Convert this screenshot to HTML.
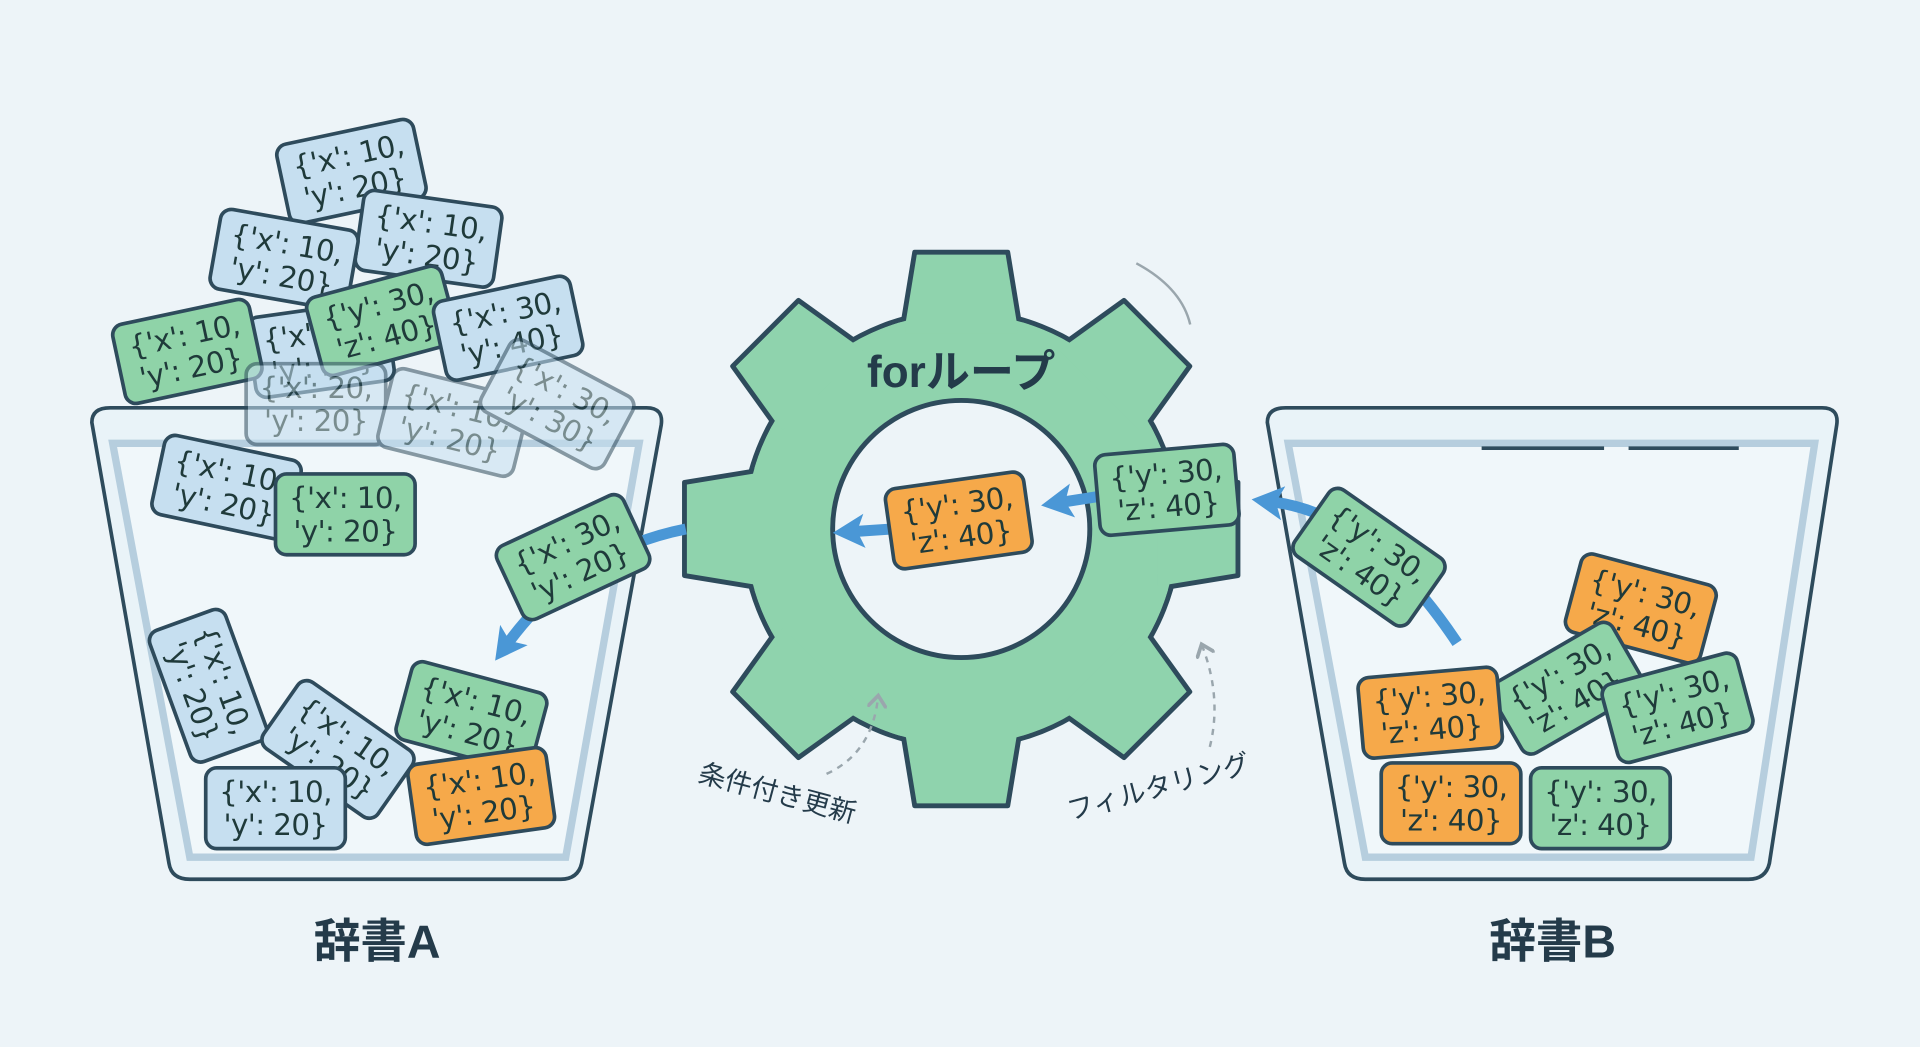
<!DOCTYPE html>
<html><head><meta charset="utf-8"><style>
html,body{margin:0;padding:0;background:#edf4f8;}
svg{display:block}
.c text{font-family:"DejaVu Sans","Liberation Sans",sans-serif;font-size:24px;fill:#1f3a3a;text-anchor:middle;letter-spacing:-0.5px}
.lbl{font-family:"Liberation Sans","Noto Sans CJK JP",sans-serif;fill:#243b4a}
</style></head><body>
<svg width="1920" height="1047" viewBox="0 0 1568 855" preserveAspectRatio="none" xmlns="http://www.w3.org/2000/svg">
<defs>
<g id="cb"><rect x="-57" y="-33" width="114" height="66" rx="9" fill="#c6dff0" stroke="#2e4b5c" stroke-width="3"/></g>
<g id="cg"><rect x="-57" y="-33" width="114" height="66" rx="9" fill="#8fd3a8" stroke="#2e4b5c" stroke-width="3"/></g>
<g id="co"><rect x="-57" y="-33" width="114" height="66" rx="9" fill="#f6a94a" stroke="#2e4b5c" stroke-width="3"/></g>
<marker id="ah" markerUnits="userSpaceOnUse" markerWidth="26" markerHeight="28" refX="8" refY="14" orient="auto"><path d="M0,0 L26,14 L0,28 L6,14 z" fill="#4a97d6"/></marker>
<marker id="dh" markerWidth="8" markerHeight="8" refX="4" refY="4" orient="auto"><path d="M0,0 L5,4 L0,8" fill="none" stroke="#9aa6ad" stroke-width="1.5"/></marker>
</defs>
<rect width="1568" height="855" fill="#edf4f8"/>

<!-- left bucket -->
<path d="M75,345 Q75,333 90,333 L528,333 Q542,333 540,347 L475,705 Q472,718 458,718 L155,718 Q140,718 138,705 Z" fill="#e6f1f8" fill-opacity="0.6" stroke="#2e4b5c" stroke-width="3"/>
<path d="M92,362 L522,362 L462,700 L155,700 Z" fill="#f2f8fb" stroke="#aac6d8" stroke-width="6" opacity="0.8"/>
<!-- right bucket -->
<path d="M1035,345 Q1035,333 1050,333 L1488,333 Q1502,333 1500,347 L1445,705 Q1442,718 1428,718 L1115,718 Q1100,718 1098,705 Z" fill="#e6f1f8" fill-opacity="0.6" stroke="#2e4b5c" stroke-width="3"/>
<path d="M1052,362 L1482,362 L1430,700 L1115,700 Z" fill="#f2f8fb" stroke="#aac6d8" stroke-width="6" opacity="0.8"/>
<line x1="1210" y1="366" x2="1310" y2="366" stroke="#2e4b5c" stroke-width="3"/>
<line x1="1330" y1="366" x2="1420" y2="366" stroke="#2e4b5c" stroke-width="3"/>

<!-- gear -->
<g transform="translate(785,432)">
 <g stroke="#2e4b5c" stroke-width="4" fill="#8fd3ad" stroke-linejoin="round">
  <circle r="178"/>
  <polygon points="-48,-165 48,-165 38,-226 -38,-226" transform="rotate(0)"/>
  <polygon points="-48,-165 48,-165 38,-226 -38,-226" transform="rotate(45)"/>
  <polygon points="-48,-165 48,-165 38,-226 -38,-226" transform="rotate(90)"/>
  <polygon points="-48,-165 48,-165 38,-226 -38,-226" transform="rotate(135)"/>
  <polygon points="-48,-165 48,-165 38,-226 -38,-226" transform="rotate(180)"/>
  <polygon points="-48,-165 48,-165 38,-226 -38,-226" transform="rotate(225)"/>
  <polygon points="-48,-165 48,-165 38,-226 -38,-226" transform="rotate(270)"/>
  <polygon points="-48,-165 48,-165 38,-226 -38,-226" transform="rotate(315)"/>
 </g>
 <g fill="#8fd3ad" stroke="none">
  <circle r="176"/>
  <polygon points="-46,-160 46,-160 36,-224 -36,-224" transform="rotate(0)"/>
  <polygon points="-46,-160 46,-160 36,-224 -36,-224" transform="rotate(45)"/>
  <polygon points="-46,-160 46,-160 36,-224 -36,-224" transform="rotate(90)"/>
  <polygon points="-46,-160 46,-160 36,-224 -36,-224" transform="rotate(135)"/>
  <polygon points="-46,-160 46,-160 36,-224 -36,-224" transform="rotate(180)"/>
  <polygon points="-46,-160 46,-160 36,-224 -36,-224" transform="rotate(225)"/>
  <polygon points="-46,-160 46,-160 36,-224 -36,-224" transform="rotate(270)"/>
  <polygon points="-46,-160 46,-160 36,-224 -36,-224" transform="rotate(315)"/>
 </g>
 <circle r="105" fill="#edf4f8" stroke="#2e4b5c" stroke-width="4"/>
</g>
<text x="785" y="316" class="lbl" font-size="36" font-weight="bold" text-anchor="middle">forループ</text>
<path d="M928,215 Q965,235 972,265" fill="none" stroke="#9aa6ad" stroke-width="2"/>

<!-- arrows -->
<path d="M560,432 Q470,450 415,525" fill="none" stroke="#4a97d6" stroke-width="9" marker-end="url(#ah)"/>
<path d="M900,405 L868,410" stroke="#4a97d6" stroke-width="9" marker-end="url(#ah)"/>
<path d="M728,432 L698,434" stroke="#4a97d6" stroke-width="9" marker-end="url(#ah)"/>
<path d="M1190,525 Q1120,420 1040,410" fill="none" stroke="#4a97d6" stroke-width="9" marker-end="url(#ah)"/>
<path d="M675,632 Q712,615 717,570" fill="none" stroke="#9aa6ad" stroke-width="2" stroke-dasharray="5,5" marker-end="url(#dh)"/>
<path d="M988,610 Q998,570 982,528" fill="none" stroke="#9aa6ad" stroke-width="2" stroke-dasharray="5,5" marker-end="url(#dh)"/>

<!-- cards -->
<g class="c">
<g transform="translate(287,140) rotate(-12)"><use href="#cb"/><text y="-5">{'x': 10,</text><text y="22">'y': 20}</text></g>
<g transform="translate(350,195) rotate(8)"><use href="#cb"/><text y="-5">{'x': 10,</text><text y="22">'y': 20}</text></g>
<g transform="translate(232,212) rotate(10)"><use href="#cb"/><text y="-5">{'x': 10,</text><text y="22">'y': 20}</text></g>
<g transform="translate(262,285) rotate(-8)"><use href="#cb"/><text y="-5">{'x': 10,</text><text y="22">'y': 20}</text></g>
<g transform="translate(312,262) rotate(-15)"><use href="#cg"/><text y="-5">{'y': 30,</text><text y="22">'z': 40}</text></g>
<g transform="translate(415,268) rotate(-12)"><use href="#cb"/><text y="-5">{'x': 30,</text><text y="22">'y': 40}</text></g>
<g transform="translate(153,287) rotate(-12)"><use href="#cg"/><text y="-5">{'x': 10,</text><text y="22">'y': 20}</text></g>
<g opacity="0.55"><g transform="translate(258,330)"><use href="#cb"/><text y="-5">{'x': 20,</text><text y="22">'y': 20}</text></g>
<g transform="translate(370,345) rotate(14)"><use href="#cb"/><text y="-5">{'x': 10,</text><text y="22">'y': 20}</text></g>
<g transform="translate(455,330) rotate(28)"><use href="#cb"/><text y="-5">{'x': 30,</text><text y="22">'y': 30}</text></g></g>
<g transform="translate(185,398) rotate(12)"><use href="#cb"/><text y="-5">{'x': 10,</text><text y="22">'y': 20}</text></g>
<g transform="translate(282,420)"><use href="#cg"/><text y="-5">{'x': 10,</text><text y="22">'y': 20}</text></g>
<g transform="translate(468,455) rotate(-25)"><use href="#cg"/><text y="-5">{'x': 30,</text><text y="22">'y': 20}</text></g>
<g transform="translate(170,560) rotate(70)"><use href="#cb"/><text y="-5">{'x': 10,</text><text y="22">'y': 20}</text></g>
<g transform="translate(276,612) rotate(35)"><use href="#cb"/><text y="-5">{'x': 10,</text><text y="22">'y': 20}</text></g>
<g transform="translate(385,585) rotate(15)"><use href="#cg"/><text y="-5">{'x': 10,</text><text y="22">'y': 20}</text></g>
<g transform="translate(225,660)"><use href="#cb"/><text y="-5">{'x': 10,</text><text y="22">'y': 20}</text></g>
<g transform="translate(393,650) rotate(-8)"><use href="#co"/><text y="-5">{'x': 10,</text><text y="22">'y': 20}</text></g>

<g transform="translate(953,400) rotate(-5)"><use href="#cg"/><text y="-5">{'y': 30,</text><text y="22">'z': 40}</text></g>
<g transform="translate(783,425) rotate(-8)"><use href="#co"/><text y="-5">{'y': 30,</text><text y="22">'z': 40}</text></g>

<g transform="translate(1118,455) rotate(35)"><use href="#cg"/><text y="-5">{'y': 30,</text><text y="22">'z': 40}</text></g>
<g transform="translate(1340,497) rotate(15)"><use href="#co"/><text y="-5">{'y': 30,</text><text y="22">'z': 40}</text></g>
<g transform="translate(1280,562) rotate(-30)"><use href="#cg"/><text y="-5">{'y': 30,</text><text y="22">'z': 40}</text></g>
<g transform="translate(1370,578) rotate(-15)"><use href="#cg"/><text y="-5">{'y': 30,</text><text y="22">'z': 40}</text></g>
<g transform="translate(1168,582) rotate(-5)"><use href="#co"/><text y="-5">{'y': 30,</text><text y="22">'z': 40}</text></g>
<g transform="translate(1185,656)"><use href="#co"/><text y="-5">{'y': 30,</text><text y="22">'z': 40}</text></g>
<g transform="translate(1307,660)"><use href="#cg"/><text y="-5">{'y': 30,</text><text y="22">'z': 40}</text></g>
</g>

<text x="308" y="782" class="lbl" font-size="38" font-weight="bold" text-anchor="middle">辞書A</text>
<text x="1268" y="782" class="lbl" font-size="38" font-weight="bold" text-anchor="middle">辞書B</text>
<text transform="translate(633,655) rotate(15)" class="lbl" font-size="22" text-anchor="middle">条件付き更新</text>
<text transform="translate(948,650) rotate(-15)" class="lbl" font-size="22" text-anchor="middle">フィルタリング</text>
</svg>
</body></html>
